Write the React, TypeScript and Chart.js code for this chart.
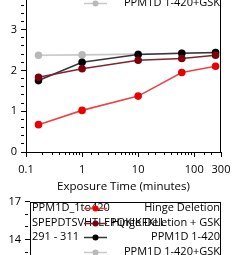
import React, { useEffect, useRef } from "react";
import { Chart, registerables } from "chart.js";

Chart.register(...registerables);

// ---- data ----
const timesMin = [0.167, 1, 10, 60, 240];
const hingeDeletion = [0.67, 1.02, 1.37, 1.95, 2.1];
const hingeDeletionGsk = [1.83, 2.04, 2.25, 2.29, 2.37];
const ppm1d = [1.75, 2.2, 2.39, 2.42, 2.44];
const ppm1dGsk = [2.37, 2.38, 2.4, 2.42, 2.44];
const seriesLabels = ["Hinge Deletion", "Hinge Deletion + GSK", "PPM1D 1-420", "PPM1D 1-420+GSK"];
const xTickLabels = [0.1, 1, 10, 100, 300];
const lowerYTickLabels = [14, 17];
const lowerPanelLines = ["PPM1D_1to420", "SPEPDTSVHTLEPQKIKFKLL", "291 - 311"];

const FONT = "'Open Sans', 'Noto Sans', sans-serif";
const lineColors = ["rgb(232,70,70)", "rgb(130,35,45)", "rgb(55,55,55)", "rgb(200,200,200)"];
const markColors = ["rgb(235,0,0)", "rgb(125,0,15)", "rgb(0,0,0)", "rgb(185,185,185)"];

const near = (v: number, list: number[]) => list.some((t) => Math.abs(v - t) < 1e-6 * Math.max(1, Math.abs(t)));

const tickGrid = {
  display: true,
  drawOnChartArea: false,
  drawTicks: true,
  tickLength: 5,
  tickColor: "#000",
  color: "#000",
  tickBorderDash: (c: any) => {
    const lab = c && c.tick ? c.tick.label : "";
    return lab !== "" && lab != null ? [] : [3, 10];
  },
};

const frameLegend = {
  id: "frameLegend",
  afterDraw(chart: any, _args: any, opts: any) {
    const { ctx, chartArea: a } = chart;
    ctx.save();
    ctx.strokeStyle = "#000";
    ctx.lineWidth = 1;
    ctx.strokeRect(Math.round(a.left) + 0.5, Math.round(a.top) + 0.5, Math.round(a.right - a.left) - 1, Math.round(a.bottom - a.top));
    ctx.font = `11px ${FONT}`;
    ctx.textBaseline = "middle";
    const rows = (i: number) => a.top + opts.firstRow + i * opts.rowStep;
    (opts.lines || []).forEach((txt: string, i: number) => {
      ctx.fillStyle = "#000";
      ctx.textAlign = "left";
      ctx.fillText(txt, a.left + 2, rows(i));
    });
    chart.data.datasets.forEach((ds: any, i: number) => {
      const y = Math.round(rows(i)) + 0.5;
      ctx.textAlign = "right";
      ctx.fillStyle = "#000";
      ctx.fillText(ds.label, opts.textRight, rows(i));
      ctx.strokeStyle = ds.borderColor;
      ctx.lineWidth = 1.5;
      ctx.beginPath();
      ctx.moveTo(opts.sample0, y);
      ctx.lineTo(opts.sample1, y);
      ctx.stroke();
      ctx.fillStyle = ds.pointBackgroundColor;
      ctx.beginPath();
      ctx.arc((opts.sample0 + opts.sample1) / 2, y, 3, 0, Math.PI * 2);
      ctx.fill();
    });
    ctx.restore();
  },
};

function makeDatasets(withData: boolean) {
  const vals = [hingeDeletion, hingeDeletionGsk, ppm1d, ppm1dGsk];
  return seriesLabels.map((label, i) => ({
    label,
    data: withData ? timesMin.map((x, j) => ({ x, y: vals[i][j] })) : [],
    borderColor: lineColors[i],
    backgroundColor: markColors[i],
    pointBackgroundColor: markColors[i],
    pointBorderColor: markColors[i],
    borderWidth: 1.6,
    pointRadius: 3,
    pointStyle: "circle",
    tension: 0,
  }));
}

export default function App() {
  const topRef = useRef<HTMLCanvasElement>(null);
  const botRef = useRef<HTMLCanvasElement>(null);

  useEffect(() => {
    document.body.style.margin = "0";
    const tickFont = { family: FONT, size: 11 };
    const top = new Chart(topRef.current!, {
      type: "line",
      data: { datasets: makeDatasets(true) as any },
      plugins: [frameLegend],
      options: {
        animation: false,
        responsive: false,
        layout: { padding: { top: 12, right: 25, left: 0, bottom: 0 } },
        plugins: {
          legend: { display: false },
          tooltip: { enabled: false },
          frameLegend: { firstRow: 11, rowStep: 14.5, textRight: 220, sample0: 84, sample1: 107, lines: [] },
        } as any,
        scales: {
          x: {
            type: "logarithmic",
            min: 0.1,
            max: 300,
            grid: tickGrid as any,
            border: { display: false },
            afterFit: (s: any) => { s.height = 43; },
            ticks: {
              autoSkip: false,
              maxRotation: 0,
              padding: 6,
              color: "#000",
              font: tickFont,
              callback: (v: any) => (near(Number(v), xTickLabels) ? String(Number(v)) : ""),
            },
            title: {
              display: true,
              text: "Exposure Time (minutes)",
              color: "#000",
              font: { family: FONT, size: 11.5 },
              padding: { top: 0, bottom: 1.5 },
            },
          },
          y: {
            type: "linear",
            min: 0,
            max: 5,
            grid: tickGrid as any,
            border: { display: false },
            afterFit: (s: any) => { s.width = 26; },
            ticks: {
              stepSize: 0.2,
              autoSkip: false,
              padding: 4,
              color: "#000",
              font: tickFont,
              callback: (v: any) => {
                const n = Number(v);
                return Math.abs(n - Math.round(n)) < 1e-6 ? String(Math.round(n)) : "";
              },
            },
          },
        },
      },
    });

    const bot = new Chart(botRef.current!, {
      type: "line",
      data: { datasets: makeDatasets(false) as any },
      plugins: [frameLegend],
      options: {
        animation: false,
        responsive: false,
        layout: { padding: { top: 10, right: 25, left: 0, bottom: 6 } },
        plugins: {
          legend: { display: false },
          tooltip: { enabled: false },
          frameLegend: { firstRow: 6.5, rowStep: 14.5, textRight: 220, sample0: 84, sample1: 107, lines: lowerPanelLines },
        } as any,
        scales: {
          x: { type: "logarithmic", min: 0.1, max: 300, display: false },
          y: {
            type: "linear",
            min: 11,
            max: 17,
            grid: tickGrid as any,
            border: { display: false },
            afterFit: (s: any) => { s.width = 30; },
            ticks: {
              stepSize: 1,
              autoSkip: false,
              padding: 4,
              color: "#000",
              font: tickFont,
              callback: (v: any) => (near(Number(v), lowerYTickLabels) ? String(Number(v)) : ""),
            },
          },
        },
      },
    });
    return () => {
      top.destroy();
      bot.destroy();
    };
  }, []);

  return (
    <div style={{ position: "fixed", left: 0, top: 0, width: 246, height: 255, overflow: "hidden", background: "#fff" }}>
      <canvas ref={topRef} width={246} height={259} style={{ position: "absolute", left: 0, top: -64 }} />
      <canvas ref={botRef} width={246} height={97} style={{ position: "absolute", left: 0, top: 191 }} />
    </div>
  );
}
